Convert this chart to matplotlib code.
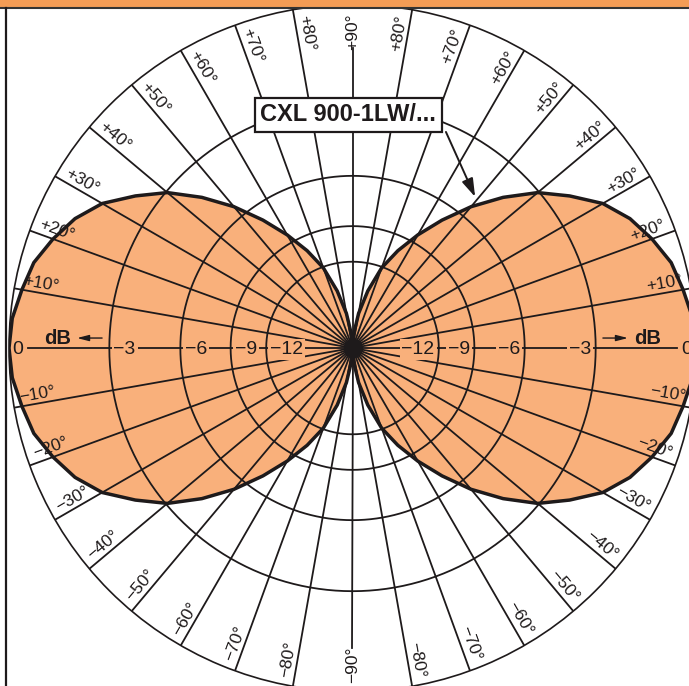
import numpy as np
import matplotlib
matplotlib.use("Agg")
import matplotlib.pyplot as plt
from matplotlib.patches import Rectangle
from matplotlib.lines import Line2D

plt.rcParams['font.family'] = ['Liberation Sans', 'DejaVu Sans']

# ---------------- data ----------------
elev_deg = [-90, -85, -80, -75, -70, -65, -60, -55, -50, -45, -40, -35, -30, -25, -20, -15, -10, -5,
            0, 5, 10, 15, 20, 25, 30, 35, 40, 45, 50, 55, 60, 65, 70, 75, 80, 85, 90]
level_db = [-60, -27.5, -19.8, -15.3, -12.1, -10.1, -8.4, -6.85, -5.4, -4.15, -3.05, -2.25, -1.5, -1.0,
            -0.65, -0.35, -0.2, -0.05,
            0,
            -0.05, -0.2, -0.35, -0.65, -1.0, -1.5, -2.25, -3.05, -4.15, -5.4, -6.85, -8.4, -10.1,
            -12.1, -15.3, -19.8, -27.5, -60]
grid_db = [-3, -6, -9, -12]
grid_labels = ["−3", "−6", "−9", "−12"]
spoke_deg = list(range(0, 360, 10))
angle_ticks = [80, 70, 60, 50, 40, 30, 20, 10, -10, -20, -30, -40, -50, -60, -70, -80]
model_label = "CXL 900-1LW/..."

FILL = "#F9B07B"
BAR = "#F39C55"
INK = "#1e1a1b"

W, H, DPI = 689, 686, 100
fig = plt.figure(figsize=(W / DPI, H / DPI), dpi=DPI)
cx, cy, R = 352.5, H - 348.0, 343.5
ax = fig.add_axes([(cx - R) / W, (cy - R) / H, 2 * R / W, 2 * R / H], projection='polar')
ax.set_ylim(0, 1)
ax.set_xticks([])
ax.set_yticks([])
ax.grid(False)
ax.spines['polar'].set_linewidth(1.2)
ax.spines['polar'].set_color(INK)


def P(x, y):
    return (np.arctan2(y, x), np.hypot(x, y))


el = np.array(elev_deg, dtype=float)
amp = 10 ** (np.array(level_db) / 20.0)
for th in (np.deg2rad(el), np.deg2rad(180 - el)):
    ax.fill(th, amp, color=FILL, zorder=1, lw=0)
    ax.plot(th, amp, color=INK, lw=2.5, zorder=5, solid_joinstyle='round')

# grid circles
t = np.linspace(0, 2 * np.pi, 721)
for db in grid_db:
    ax.plot(t, np.full_like(t, 10 ** (db / 20)), color=INK, lw=1.3, zorder=3)

# spokes
for a in spoke_deg:
    if a in (90, 270):
        rmax = 0.873
    elif a in (0, 180):
        rmax = 0.946
    else:
        rmax = 1.0
    ax.plot([np.deg2rad(a)] * 2, [0, rmax], color=INK, lw=1.3, zorder=3)

ax.plot([0], [0], 'o', color=INK, ms=13, zorder=6)


def angle_label(theta, text, r=0.926, off=6.8):
    rho = theta % 180
    if rho > 90:
        rho -= 180
    dx = -off * np.sin(np.deg2rad(rho))
    dy = off * np.cos(np.deg2rad(rho))
    ax.annotate(text, xy=(np.deg2rad(theta), r), xytext=(dx, dy), textcoords='offset points',
                rotation=rho, rotation_mode='anchor', ha='center', va='center',
                fontsize=12.5, color=INK, zorder=7)


for e in angle_ticks:
    s = ("+%d°" % e) if e > 0 else ("−%d°" % abs(e))
    angle_label(e, s)
    angle_label(180 - e, s)
angle_label(90, "+90°", r=0.921, off=0)
angle_label(-90, "−90°", r=0.921, off=0)

# dB labels
for db, lab in zip(grid_db, grid_labels):
    rr = 10 ** (db / 20)
    for th, sgn, ha in ((np.pi, 1, 'left'), (0.0, -1, 'right')):
        ax.annotate(lab, xy=(th, rr), xytext=(sgn * 3.0, -0.8), textcoords='offset points',
                    ha=ha, va='center', fontsize=14, color=INK, zorder=7,
                    bbox=dict(boxstyle='square,pad=0.1', fc=FILL, ec='none'))
for th in (np.pi, 0.0):
    ax.annotate("0", xy=(th, 0.974), xytext=(0, -0.8), textcoords='offset points',
                ha='center', va='center', fontsize=14, color=INK, zorder=7)

# dB direction markers
for s in (-1, 1):
    ax.annotate("", xy=P(s * 0.802, 0.029), xytext=P(s * 0.729, 0.029),
                arrowprops=dict(arrowstyle='-|>,head_length=0.7,head_width=0.18',
                                lw=1.0, color=INK, shrinkA=0, shrinkB=0, mutation_scale=10),
                zorder=7)
    ax.text(*P(s * 0.858, 0.029), "dB", ha='center', va='center', fontsize=14.5,
            fontweight='bold', color=INK, zorder=7)

# model label box + arrow
ax.text(*P(-0.012, 0.679), model_label, ha='center', va='center', fontsize=17,
        fontweight='bold', color=INK, zorder=9,
        bbox=dict(boxstyle='square,pad=0.24', fc='white', ec=INK, lw=1.6))
ax.annotate("", xy=P(0.357, 0.440), xytext=P(0.272, 0.629),
            arrowprops=dict(arrowstyle='-|>,head_length=1.1,head_width=0.35',
                            lw=1.4, color=INK, shrinkA=0, shrinkB=0, mutation_scale=10),
            zorder=9)

# page frame: top orange bar and left rule
fig.add_artist(Rectangle((0, 1 - 7.5 / H), 1, 7.5 / H, transform=fig.transFigure,
                         fc=BAR, ec='none', zorder=20))
fig.add_artist(Line2D([0, 1], [1 - 8.4 / H] * 2, transform=fig.transFigure,
                      color='#333333', lw=1.5, zorder=21))
fig.add_artist(Line2D([6.2 / W] * 2, [0, 1 - 8 / H], transform=fig.transFigure,
                      color=INK, lw=1.6, zorder=21))

fig.savefig("out.png", dpi=DPI)
